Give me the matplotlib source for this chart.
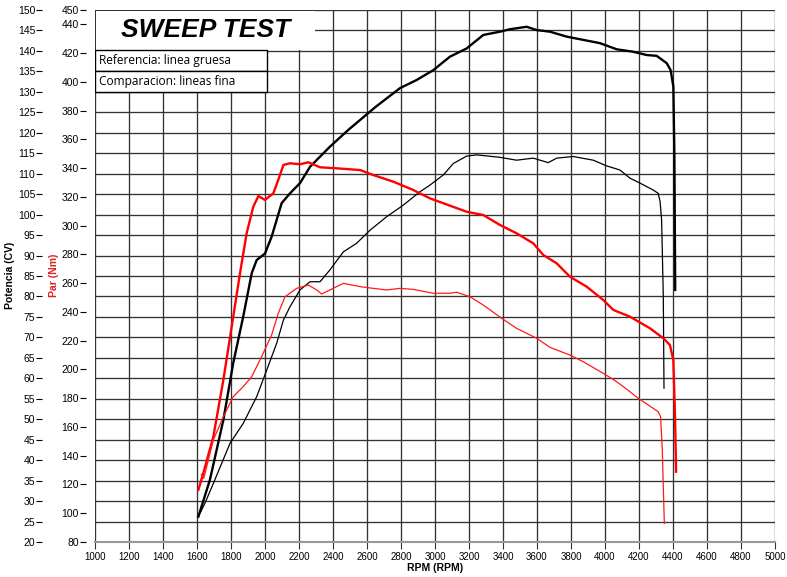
import numpy as np
import matplotlib
matplotlib.use('Agg')
import matplotlib.pyplot as plt
from matplotlib.patches import Rectangle

plt.rcParams['font.family'] = ['Liberation Sans', 'DejaVu Sans']

# axis ticks
rpm_ticks = list(range(1000, 5001, 200))
cv_ticks = list(range(20, 151, 5))
nm_ticks = list(range(80, 441, 20)) + [450]

# Reference run (thick lines)
rpm_pow_ref = [1608, 1676, 1755, 1813, 1872, 1922, 1951, 2000, 2039, 2098, 2147, 2206,
               2265, 2382, 2490, 2650, 2794, 2892, 2990, 3088, 3186, 3284, 3382, 3441,
               3539, 3598, 3676, 3774, 3872, 3970, 4069, 4166, 4245, 4304, 4363, 4386,
               4402, 4408, 4413]
pow_ref = [26.2, 35.2, 49.8, 63.7, 75.1, 85.7, 88.9, 90.5, 94.6, 102.8, 105.2, 107.7,
           111.7, 116.6, 120.7, 126.3, 130.9, 132.9, 135.3, 138.6, 140.6, 143.9, 144.7, 145.3,
           145.9, 145.1, 144.7, 143.5, 142.7, 141.9, 140.4, 139.8, 139.0, 138.8, 137.0, 135.3,
           131.3, 115.1, 81.6]

rpm_par_ref = [1608, 1637, 1696, 1755, 1804, 1853, 1892, 1931, 1961, 2000, 2049, 2078,
               2108, 2147, 2206, 2255, 2324, 2422, 2559, 2637, 2755, 2872, 2970, 3186,
               3284, 3382, 3480, 3578, 3637, 3716, 3794, 3892, 3990, 4049, 4147, 4265,
               4343, 4382, 4402, 4412, 4418]
par_ref = [116.2, 127.8, 153.2, 192.7, 229.7, 266.9, 294.7, 313.2, 320.6, 317.9, 322.5, 331.8,
           342.2, 343.4, 342.7, 344.1, 340.6, 339.9, 338.7, 335.2, 330.6, 324.8, 319.0, 309.7,
           307.4, 300.5, 294.7, 287.7, 279.6, 273.8, 264.5, 257.6, 248.3, 241.4, 236.7, 228.6,
           221.7, 217.0, 206.6, 167.1, 128.9]

# Comparison run (thin lines)
rpm_pow_cmp = [1608, 1647, 1696, 1794, 1872, 1951, 2010, 2069, 2108, 2147, 2206, 2265,
               2324, 2382, 2461, 2539, 2618, 2716, 2813, 2912, 2970, 3049, 3108, 3186,
               3245, 3382, 3480, 3578, 3666, 3716, 3813, 3931, 4010, 4088, 4147, 4206,
               4284, 4313, 4324, 4333, 4343, 4347]
pow_cmp = [26.2, 29.5, 34.3, 44.1, 49.0, 55.5, 62.0, 68.6, 74.2, 77.5, 81.6, 83.6,
           83.6, 86.5, 90.9, 93.0, 96.2, 99.5, 102.3, 105.6, 107.2, 109.7, 112.5, 114.3,
           114.6, 114.0, 113.3, 113.8, 112.7, 113.8, 114.2, 113.3, 111.9, 110.9, 108.9, 107.7,
           106.0, 105.2, 103.2, 98.7, 79.9, 57.6]

rpm_par_cmp = [1625, 1640, 1696, 1755, 1813, 1872, 1922, 1980, 2039, 2078, 2118, 2186,
               2255, 2304, 2333, 2382, 2461, 2559, 2637, 2716, 2794, 2872, 2990, 3088,
               3127, 3206, 3284, 3392, 3480, 3598, 3676, 3794, 3872, 3990, 4069, 4147,
               4196, 4313, 4327, 4337, 4349]
par_cmp = [127.0, 124.3, 150.9, 167.1, 181.1, 188.0, 195.0, 208.9, 224.0, 239.0, 250.6, 256.4,
           258.7, 255.3, 252.5, 255.3, 259.9, 257.6, 256.4, 255.3, 256.4, 255.7, 253.0, 253.0,
           253.7, 250.6, 244.8, 235.6, 228.6, 221.7, 215.4, 210.0, 205.4, 197.3, 191.5, 184.5,
           179.9, 170.6, 167.1, 144.0, 93.0]

fig = plt.figure(figsize=(7.87, 5.77), dpi=100)
ax = fig.add_axes([95 / 787, 35 / 577, 680 / 787, 532 / 577])  # Par (Nm)
axp = ax.twinx()                                                # Potencia (CV)

# power axis sits underneath so the torque curves draw on top
axp.set_zorder(0)
ax.set_zorder(1)
ax.patch.set_visible(False)

grid_col = '#333333'
axp.vlines(rpm_ticks, 20, 150, colors=grid_col, linewidth=0.95, zorder=1)
axp.set_yticks(cv_ticks)
axp.grid(axis='y', color=grid_col, linewidth=0.95, zorder=1)

# curves
axp.plot(rpm_pow_ref, pow_ref, color='black', linewidth=1.7, zorder=3)
axp.plot(rpm_pow_cmp, pow_cmp, color='black', linewidth=0.9, zorder=3)
ax.plot(rpm_par_ref, par_ref, color='#ff0000', linewidth=1.7, zorder=3)
ax.plot(rpm_par_cmp, par_cmp, color='#ff1a1a', linewidth=0.9, zorder=3)

# limits and ticks
ax.set_xlim(1000, 5000)
ax.set_ylim(80, 450)
axp.set_ylim(20, 150)
ax.set_xticks(rpm_ticks)
ax.set_yticks(nm_ticks)

axp.yaxis.tick_left()
axp.spines['left'].set_position(('outward', 38))
for a in (ax, axp):
    for s in ('left', 'right', 'top'):
        a.spines[s].set_visible(False)
axp.spines['bottom'].set_visible(False)
ax.spines['left'].set_position(('outward', 6.5))
ax.spines['bottom'].set_color('#999999')
ax.spines['bottom'].set_linewidth(1.5)

ax.tick_params(axis='y', length=4, width=0.8, pad=1, labelsize=7.5)
axp.tick_params(axis='y', length=4, width=0.8, pad=1, labelsize=7.5)
ax.tick_params(axis='x', length=5, width=0.8, pad=2, labelsize=7, color='#333333')

# axis titles
fig.text(0.013, 0.523, 'Potencia (CV)', rotation=90, ha='center', va='center',
         fontsize=7.5, fontweight='bold')
fig.text(0.068, 0.523, 'Par (Nm)', rotation=90, ha='center', va='center',
         fontsize=7.5, fontweight='bold', color='#e02020')
fig.text(0.553, 0.016, 'RPM (RPM)', ha='center', va='center',
         fontsize=7.5, fontweight='bold')

# title box
ax.add_patch(Rectangle((0.0015, 0.9248), 0.322, 0.073, transform=ax.transAxes,
                       facecolor='white', edgecolor='none', zorder=5))
ax.text(0.162, 0.962, 'SWEEP TEST', transform=ax.transAxes, ha='center', va='center',
        fontsize=19, fontweight='bold', fontstyle='italic', zorder=6)

# legend boxes
ax.add_patch(Rectangle((0.0, 0.8853), 0.253, 0.0395, transform=ax.transAxes,
                       facecolor='white', edgecolor='black', linewidth=1.0, zorder=5))
ax.add_patch(Rectangle((0.0, 0.8459), 0.253, 0.0394, transform=ax.transAxes,
                       facecolor='white', edgecolor='black', linewidth=1.0, zorder=5))
ax.text(0.006, 0.905, 'Referencia: linea gruesa', transform=ax.transAxes,
        ha='left', va='center', fontsize=8.6, family='Open Sans', zorder=6)
ax.text(0.006, 0.8656, 'Comparacion: lineas fina', transform=ax.transAxes,
        ha='left', va='center', fontsize=8.6, family='Open Sans', zorder=6)

fig.savefig('out.png', dpi=100)
